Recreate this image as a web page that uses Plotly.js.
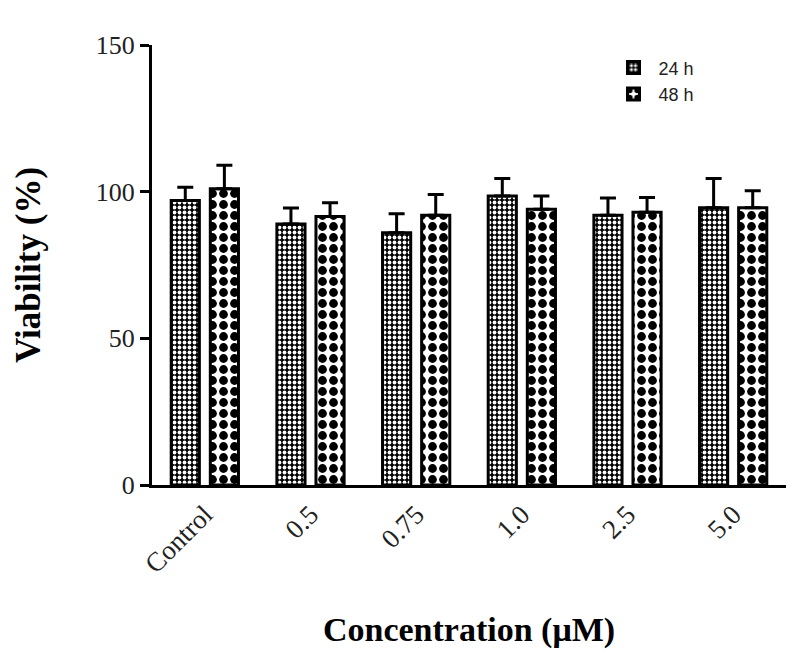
<!DOCTYPE html>
<html>
<head>
<meta charset="utf-8">
<script src="https://cdn.plot.ly/plotly-3.0.1.min.js"></script>
<style>html,body{margin:0;padding:0;background:#fff;}#chart{width:799px;height:659px;}</style>
</head>
<body>
<div id="chart"></div>
<script>
const categories = ["Control", "0.5", "0.75", "1.0", "2.5", "5.0"];
const values24 = [97, 89, 86, 98.5, 92, 94.5];
const err24 = [4.5, 5.4, 6.5, 6, 5.8, 10];
const values48 = [101, 91.5, 92, 94, 93, 94.5];
const err48 = [8, 4.7, 7, 4.5, 5, 5.8];
const seriesNames = ["24 h", "48 h"];
const yTicks = [0, 50, 100, 150];

const serif = "Liberation Serif, Times New Roman, serif";
const zeros = categories.map(() => 0);

function trace(name, vals, errs, pattern) {
  return {
    type: "bar",
    name: name,
    x: categories,
    y: vals,
    marker: {
      color: pattern.bgcolor,
      line: {color: "#000", width: 3},
      pattern: pattern
    },
    error_y: {
      type: "data", symmetric: false, array: errs, arrayminus: zeros,
      color: "#000", thickness: 3, width: 8
    }
  };
}

const data = [
  trace(seriesNames[0], values24, err24, {shape: ".", bgcolor: "#000", fgcolor: "#fff", fgopacity: 1, size: 5, solidity: 0.45, fillmode: "overlay"}),
  trace(seriesNames[1], values48, err48, {shape: ".", bgcolor: "#fff", fgcolor: "#000", fgopacity: 1, size: 11, solidity: 0.5, fillmode: "overlay"})
];

const layout = {
  width: 799, height: 659,
  margin: {l: 152, r: 13, t: 45, b: 174},
  paper_bgcolor: "#fff", plot_bgcolor: "#fff",
  barmode: "group", bargap: 0.26, bargroupgap: 0.28,
  showlegend: true,
  legend: {x: 0.72, y: 0.99, xanchor: "left", yanchor: "top",
           font: {family: "Liberation Sans, Arial, sans-serif", size: 18, color: "#222"},
           bgcolor: "rgba(0,0,0,0)", tracegroupgap: 4, itemwidth: 40},
  xaxis: {
    type: "category",
    range: [-0.5, 5.5], showline: true, linecolor: "#000", linewidth: 3,
    ticks: "", tickangle: -45, showgrid: false, zeroline: false,
    tickfont: {family: serif, size: 27, color: "#222"},
    title: {text: "<b>Concentration (μM)</b>", font: {family: serif, size: 34, color: "#000"}, standoff: 40}
  },
  yaxis: {
    range: [0, 150], tickvals: yTicks, ticktext: yTicks.map(String),
    showline: true, linecolor: "#000", linewidth: 3,
    ticks: "outside", ticklen: 9, tickwidth: 3, tickcolor: "#000",
    showgrid: false, zeroline: false,
    tickfont: {family: serif, size: 26, color: "#222"},
    title: {text: "<b>Viability (%)</b>", font: {family: serif, size: 35, color: "#000"}, standoff: 45}
  }
};

Plotly.newPlot("chart", data, layout, {displayModeBar: false, staticPlot: true});
</script>
</body>
</html>
